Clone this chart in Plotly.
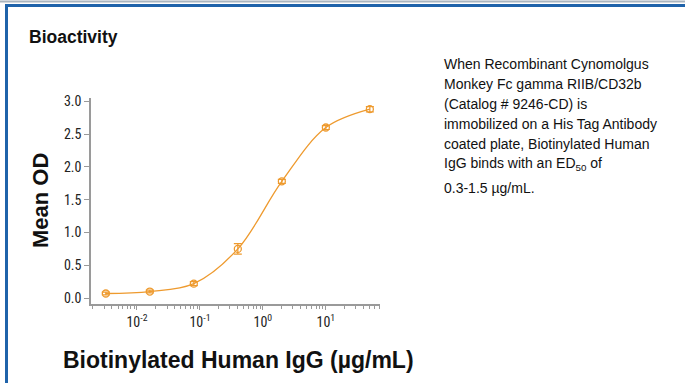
import plotly.graph_objects as go

# data
conc = [0.0032, 0.016, 0.08, 0.4, 2, 10, 50]
mean_od = [0.07, 0.10, 0.22, 0.75, 1.78, 2.60, 2.88]
err = [0.02, 0.02, 0.03, 0.08, 0.03, 0.03, 0.04]
x_tickvals = [0.01, 0.1, 1, 10]
x_ticktext = ["10<sup>-2</sup>", "10<sup>-1</sup>", "10<sup>0</sup>", "10<sup>1</sup>"]
y_tickvals = [0, 0.5, 1.0, 1.5, 2.0, 2.5, 3.0]
y_ticktext = ["0.0", "0.5", "1.0", "1.5", "2.0", "2.5", "3.0"]
desc_lines = [
    "When Recombinant Cynomolgus",
    "Monkey Fc gamma RIIB/CD32b",
    "(Catalog # 9246-CD) is",
    "immobilized on a His Tag Antibody",
    "coated plate, Biotinylated Human",
    "IgG binds with an ED<sub>50</sub> of",
    "0.3-1.5 µg/mL.",
]

ORANGE = "#EE9A2E"
W, H = 685, 383
L, R, T, B = 91, 380, 98, 304

def px(x):
    return (x - L) / (R - L)

def py(y):
    return (B - y) / (B - T)

fig = go.Figure()
fig.add_trace(go.Scatter(
    x=conc, y=mean_od, mode="lines", line=dict(color=ORANGE, width=1.3, shape="spline", smoothing=1.0),
    hoverinfo="skip", showlegend=False))
fig.add_trace(go.Scatter(
    x=conc, y=mean_od, mode="markers",
    marker=dict(symbol="circle-open", size=7, color=ORANGE, line=dict(width=1.3)),
    error_y=dict(type="data", array=err, color=ORANGE, thickness=1.2, width=4),
    showlegend=False))

annotations = [
    dict(text="<b>Bioactivity</b>", x=px(27), y=py(37), xref="paper", yref="paper",
         xanchor="left", yanchor="middle", showarrow=False,
         font=dict(family="Liberation Sans, Arial", size=17.5, color="#111")),
    dict(text="<b>Mean OD</b>", x=px(40), y=py(201), xref="paper", yref="paper",
         xanchor="center", yanchor="middle", textangle=-90, showarrow=False,
         font=dict(family="Liberation Sans, Arial", size=22, color="#111")),
    dict(text="<b>Biotinylated Human IgG (µg/mL)</b>", x=px(238), y=py(360), xref="paper", yref="paper",
         xanchor="center", yanchor="middle", showarrow=False,
         font=dict(family="Liberation Sans, Arial", size=23, color="#111")),
]
line_y = [64, 84, 104, 124, 144, 164, 188]
for t, yy in zip(desc_lines, line_y):
    annotations.append(dict(text=t, x=px(442), y=py(yy), xref="paper", yref="paper",
                            xanchor="left", yanchor="middle", showarrow=False,
                            font=dict(family="Liberation Sans, Arial", size=14, color="#111")))

shapes = [
    dict(type="line", xref="paper", yref="paper", x0=px(0), x1=px(W), y0=py(1.5), y1=py(1.5),
         line=dict(color="#A9B4BE", width=2)),
    dict(type="line", xref="paper", yref="paper", x0=px(5), x1=px(W), y0=py(5.5), y1=py(5.5),
         line=dict(color="#1F63AA", width=3)),
    dict(type="line", xref="paper", yref="paper", x0=px(6.5), x1=px(6.5), y0=py(5), y1=py(H),
         line=dict(color="#1F63AA", width=3)),
]

tickfont = dict(family="Liberation Sans Narrow, Roboto Condensed, Liberation Sans", size=14, color="#222")
fig.update_layout(
    width=W, height=H, margin=dict(l=L, r=W - R, t=T, b=H - B),
    paper_bgcolor="white", plot_bgcolor="white",
    annotations=annotations, shapes=shapes,
    xaxis=dict(type="log", range=[-2.73, 1.86], tickvals=x_tickvals, ticktext=x_ticktext,
               showgrid=False, zeroline=False, showline=True, linecolor="#9A9A9A", linewidth=1.5,
               ticks="outside", ticklen=4, tickcolor="#9A9A9A",
               minor=dict(ticks="outside", ticklen=3, tickcolor="#9A9A9A", showgrid=False,
                          tickmode="linear", tick0=0, dtick="D1"),
               tickfont=tickfont),
    yaxis=dict(range=[-0.09, 3.05], tickvals=y_tickvals, ticktext=y_ticktext,
               showgrid=False, zeroline=False, showline=True, linecolor="#9A9A9A", linewidth=1.5,
               ticks="outside", ticklen=5, tickcolor="#9A9A9A",
               tickfont=tickfont),
)

fig.write_html("out.html", config={"displayModeBar": False},
               post_script="document.body.style.margin='0';document.body.style.overflow='hidden';")
